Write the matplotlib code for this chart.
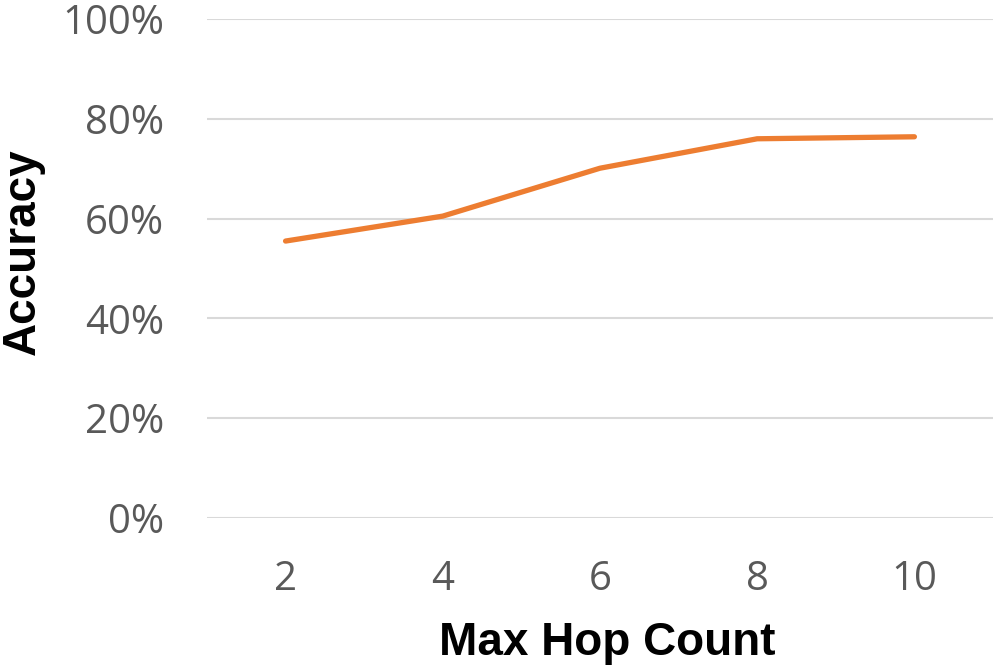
import matplotlib.pyplot as plt
from matplotlib.ticker import PercentFormatter

# data
hops = [2, 4, 6, 8, 10]
accuracy = [0.555, 0.605, 0.701, 0.760, 0.764]
y_ticks = [0.0, 0.2, 0.4, 0.6, 0.8, 1.0]

fig = plt.figure(figsize=(9.95, 6.7), dpi=100)
ax = fig.add_axes([0.208, 0.2269, 0.790, 0.7447])

ax.plot(hops, accuracy, color="#ED7D31", linewidth=3.8, solid_capstyle="round")

ax.set_xlim(1, 11)
ax.set_ylim(0, 1)
ax.set_xticks(hops)
ax.set_yticks(y_ticks)
ax.yaxis.set_major_formatter(PercentFormatter(1.0, decimals=0))

ax.grid(axis="y", color="#D9D9D9", linewidth=1.5)
ax.set_axisbelow(True)
for s in ax.spines.values():
    s.set_visible(False)
ax.tick_params(length=0, labelsize=29, labelcolor="#595959")
for lab in ax.get_xticklabels() + ax.get_yticklabels():
    lab.set_fontfamily("Open Sans")
ax.tick_params(axis="x", pad=30)
ax.tick_params(axis="y", pad=31)

ax.set_xlabel("Max Hop Count", fontsize=33, fontweight="bold",
              fontfamily="Liberation Sans")
ax.xaxis.set_label_coords(0.509, -0.207)
# y label placed in figure coords so it stays inside the canvas
fig.text(0.023, 0.624, "Accuracy", rotation=90, ha="center", va="center",
         fontsize=33, fontweight="bold", fontfamily="Liberation Sans")

fig.savefig("out.png", dpi=100)
